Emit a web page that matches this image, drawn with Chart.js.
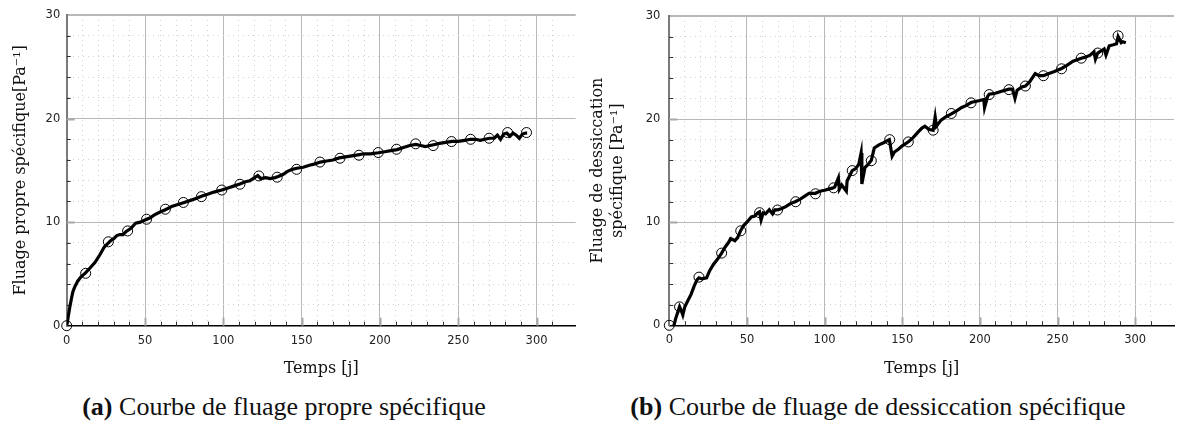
<!DOCTYPE html>
<html lang="fr">
<head>
<meta charset="utf-8">
<script src="https://cdn.jsdelivr.net/npm/chart.js@4.4.0/dist/chart.umd.min.js"></script>
<style>
  html, body { margin: 0; padding: 0; background: #fff; overflow: hidden; width: 1177px; height: 426px; }
  canvas { position: absolute; top: 0; }
  #chart-a { left: 0; }
  #chart-b { left: 580px; }
  .caption { position: absolute; top: 394px; font-family: 'Liberation Serif', serif; font-size: 26px; line-height: 26px; color: #111; white-space: nowrap; transform: translateX(-50%); }
</style>
</head>
<body>
<canvas id="chart-a" width="590" height="380"></canvas>
<canvas id="chart-b" width="602" height="380"></canvas>
<div class="caption" style="left:284px"><b>(a)</b> Courbe de fluage propre spécifique</div>
<div class="caption" style="left:878px"><b>(b)</b> Courbe de fluage de dessiccation spécifique</div>
<script>
// (a) fluage propre
const leftTimes = [
  0, 0.5, 1, 2, 3, 4, 5, 7, 9, 12,
  15, 18, 21, 24, 26, 28, 30, 32, 34, 36,
  38, 41, 44, 47, 50, 53, 56, 60, 63, 67,
  71, 75, 79, 83, 86, 90, 94, 99, 103, 107,
  111, 114, 117, 120, 122, 124, 127, 130, 133, 135,
  138, 141, 144, 147, 151, 155, 158, 162, 166, 170,
  174, 178, 182, 186, 190, 194, 199, 203, 207, 211,
  215, 219, 223, 226, 229, 232, 235, 238, 242, 246,
  250, 254, 258, 261, 264, 267, 270, 273, 275, 277,
  279, 281, 283, 285, 287, 289, 291, 293, 294
];
const leftValues = [
  0, 0.4, 0.9, 1.8, 2.6, 3.3, 3.7, 4.3, 4.7, 5.1,
  5.6, 6.1, 6.8, 7.6, 7.9, 8.2, 8.4, 8.7, 8.8, 8.8,
  9.1, 9.4, 9.9, 10.0, 10.2, 10.4, 10.7, 11.0, 11.2, 11.5,
  11.7, 11.9, 12.1, 12.3, 12.5, 12.7, 12.9, 13.1, 13.3, 13.5,
  13.7, 13.9, 14.0, 14.3, 14.5, 14.2, 14.3, 14.2, 14.3, 14.4,
  14.6, 14.9, 15.1, 15.2, 15.3, 15.5, 15.6, 15.8, 15.9, 16.0,
  16.2, 16.3, 16.4, 16.5, 16.6, 16.6, 16.7, 16.8, 16.9, 17.0,
  17.2, 17.4, 17.5, 17.4, 17.3, 17.4, 17.5, 17.6, 17.7, 17.8,
  17.8, 17.9, 18.0, 18.0, 17.9, 18.0, 18.1, 18.1, 18.4, 18.0,
  18.5, 18.6, 18.3, 18.6, 18.4, 18.1, 18.5, 18.6, 18.6
];
const leftMarkTimes = [0, 12.1, 26.6, 38.9, 51, 63, 74.5, 86, 99, 110.6, 122.7, 134.4, 146.8,
  161.7, 174.5, 186.6, 198.9, 210.6, 222.8, 234, 245.7, 257.9, 269.7, 281.5, 293.6];
const leftMarkValues = [0, 5.06, 8.1, 9.15, 10.28, 11.25, 11.9, 12.46, 13.1, 13.66, 14.46, 14.34, 15.1,
  15.8, 16.17, 16.46, 16.72, 17.04, 17.56, 17.39, 17.78, 18.0, 18.1, 18.65, 18.65];

// (b) fluage de dessiccation
const rightTimes = [
  3, 4, 6.6, 7.5, 8.7, 10, 12, 14, 16, 17.8,
  19.1, 21, 24, 26, 28.4, 31, 33.7, 36, 38, 39.5,
  41, 42.2, 44, 46, 48, 50, 52.8, 55, 57, 58.1,
  59.1, 60.5, 62, 64.4, 66.5, 68, 69.7, 72, 75, 78,
  81.4, 84, 87, 90, 94.1, 97, 100, 102.6, 105, 106.5,
  108.9, 109.5, 111, 114, 114.5, 117.8, 120, 122, 123.5, 124,
  126, 128, 130.1, 132, 135, 138, 141.7, 143.5, 145, 147.7,
  150, 154, 157, 160, 162.5, 164.6, 167, 169.9, 171.2, 172,
  175, 178, 181.6, 185, 188, 191, 194.3, 197, 200, 202.5,
  203, 205, 206, 210, 214, 218.7, 221, 222.6, 224, 227,
  229.3, 232, 235.6, 238, 240.9, 244, 248, 252.6, 256, 260,
  265.3, 268, 271, 273.5, 274.4, 275.9, 278, 280, 281.2, 283.3,
  286, 288, 289, 291, 292, 294
];
const rightValues = [
  0, 0.6, 1.8, 1.5, 1.0, 1.8, 2.4, 3.0, 3.8, 4.4,
  4.6, 4.5, 4.6, 5.3, 5.9, 6.4, 7.0, 7.6, 8.0, 8.4,
  8.3, 8.2, 8.5, 9.2, 9.7, 10.0, 10.5, 10.6, 10.9, 11.0,
  10.2, 10.9, 10.8, 11.2, 10.8, 11.2, 11.2, 11.3, 11.5, 11.8,
  12.0, 12.2, 12.5, 12.8, 12.8, 13.0, 13.1, 13.2, 13.3, 13.4,
  14.3, 13.2, 13.6, 13.0, 14.0, 15.0, 15.2, 15.6, 16.7, 13.7,
  15.3, 15.6, 16.0, 17.2, 17.5, 17.7, 18.0, 16.4, 16.8, 17.1,
  17.4, 17.8, 18.2, 18.7, 19.1, 19.3, 19.0, 18.9, 20.2, 19.3,
  19.9, 20.2, 20.5, 20.8, 21.1, 21.3, 21.6, 21.7, 21.8, 21.9,
  21.1, 22.2, 22.4, 22.5, 22.7, 22.9, 22.9, 22.0, 22.8, 23.1,
  23.2, 23.6, 24.4, 24.2, 24.2, 24.4, 24.6, 24.9, 25.2, 25.6,
  25.9, 26.0, 26.2, 26.5, 25.8, 26.4, 26.6, 26.8, 26.2, 27.1,
  27.2, 27.3, 28.0, 27.4, 27.5, 27.4
];
const rightMarkTimes = [0, 6.6, 19.1, 33.7, 46, 58.1, 69.7, 81.4, 94.1, 105.8, 117.8, 130.1, 141.9,
  153.9, 169.9, 181.6, 194.3, 206, 218.7, 229.3, 240.9, 252.6, 265.3, 275.9, 289];
const rightMarkValues = [0, 1.79, 4.67, 7.0, 9.16, 10.92, 11.18, 11.98, 12.75, 13.33, 15.0, 15.96, 18.0,
  17.78, 18.92, 20.54, 21.57, 22.37, 22.85, 23.2, 24.2, 24.87, 25.9, 26.4, 28.07];

const xTickLabels = [0, 50, 100, 150, 200, 250, 300];
const yTickLabels = [0, 10, 20, 30];

const tickFont = { family: 'DejaVu Sans', size: 11.5 };
const titleFont = { family: 'DejaVu Serif', size: 16, lineHeight: 1.25 };

function gridColor(c, major, minor) {
  if (!c.tick) return 'rgba(0,0,0,0)';
  const v = c.tick.value;
  if (v % major === 0) return '#b8b8b8';
  if (v % minor === 0) return '#d0d0d0';
  return 'rgba(0,0,0,0)';
}

function gridDash(c, major) {
  return c.tick && c.tick.value % major !== 0 ? [1, 4] : [];
}

// small inward tick marks along the bottom and left axes
const innerTicks = {
  id: 'innerTicks',
  beforeDatasetsDraw(chart) {
    const { ctx, chartArea, scales: { x, y } } = chart;
    ctx.save();
    x.ticks.forEach(t => {
      if (t.value <= 0 || t.value % 10 !== 0) return;
      const major = t.value % 50 === 0;
      const px = Math.round(x.getPixelForValue(t.value)) + 0.5;
      ctx.strokeStyle = major ? '#a8a8a8' : '#333';
      ctx.lineWidth = major ? 2 : 1;
      ctx.beginPath();
      ctx.moveTo(px, chartArea.bottom);
      ctx.lineTo(px, chartArea.bottom - (major ? 8 : 4));
      ctx.stroke();
    });
    y.ticks.forEach(t => {
      if (t.value <= 0 || t.value >= 30 || t.value % 2 !== 0) return;
      const major = t.value % 10 === 0;
      const py = Math.round(y.getPixelForValue(t.value)) + 0.5;
      ctx.strokeStyle = major ? '#a8a8a8' : '#333';
      ctx.lineWidth = major ? 2 : 1;
      ctx.beginPath();
      ctx.moveTo(chartArea.left, py);
      ctx.lineTo(chartArea.left + (major ? 8 : 4), py);
      ctx.stroke();
    });
    ctx.restore();
  }
};

function buildChart(id, times, values, markTimes, markValues, yTitle, frame) {
  const curve = times.map((t, i) => ({ x: t, y: values[i] }));
  const marks = markTimes.map((t, i) => ({ x: t, y: markValues[i] }));

  return new Chart(document.getElementById(id), {
    type: 'line',
    data: {
      datasets: [
        {
          data: marks,
          showLine: false,
          clip: false,
          pointStyle: 'circle',
          pointRadius: 5,
          pointBorderWidth: 1,
          pointBorderColor: '#000',
          pointBackgroundColor: 'rgba(0,0,0,0)',
          order: 0
        },
        {
          data: curve,
          borderColor: '#000',
          borderWidth: 3.2,
          pointRadius: 0,
          tension: 0,
          order: 1
        }
      ]
    },
    options: {
      responsive: false,
      animation: false,
      events: [],
      layout: { padding: { top: frame.top, right: frame.right, left: 0, bottom: 0 } },
      plugins: { legend: { display: false }, tooltip: { enabled: false } },
      scales: {
        x: {
          type: 'linear',
          min: 0,
          max: 325,
          afterFit: s => { s.height = frame.xHeight; },
          ticks: {
            stepSize: 10,
            autoSkip: false,
            maxRotation: 0,
            padding: 8,
            color: '#222',
            font: tickFont,
            callback: v => xTickLabels.includes(v) ? String(v) : ''
          },
          grid: { drawTicks: false, color: c => gridColor(c, 50, 10), lineWidth: 1 },
          border: { color: '#000', width: 1.5, dash: c => gridDash(c, 50) },
          title: { display: true, text: 'Temps [j]', font: titleFont, color: '#111', padding: { top: 0, bottom: 1 } }
        },
        y: {
          min: 0,
          max: 30,
          afterFit: s => { s.width = frame.yWidth; },
          ticks: {
            stepSize: 2,
            autoSkip: false,
            padding: frame.yPad,
            color: '#222',
            font: tickFont,
            callback: v => yTickLabels.includes(v) ? String(v) : ''
          },
          grid: {
            drawTicks: false,
            color: c => gridColor(c, 10, 2),
            lineWidth: c => (c.tick && c.tick.value === 30 ? 2 : 1)
          },
          border: { color: '#7a7a7a', width: 2, dash: c => gridDash(c, 10) },
          title: { display: true, text: yTitle, font: titleFont, color: '#111', padding: { top: frame.titlePad, bottom: 0 } }
        }
      }
    },
    plugins: [innerTicks]
  });
}

buildChart('chart-a', leftTimes, leftValues, leftMarkTimes, leftMarkValues,
  'Fluage propre spécifique[Pa⁻¹]',
  { top: 15, right: 14.3, xHeight: 54.3, yWidth: 66.7, yPad: 6.5, titlePad: 11 });

buildChart('chart-b', rightTimes, rightValues, rightMarkTimes, rightMarkValues,
  ['Fluage de dessiccation', 'spécifique [Pa⁻¹]'],
  { top: 13.3, right: 1.3, xHeight: 54.7, yWidth: 89.3, yPad: 9, titlePad: 8 });
</script>
</body>
</html>
